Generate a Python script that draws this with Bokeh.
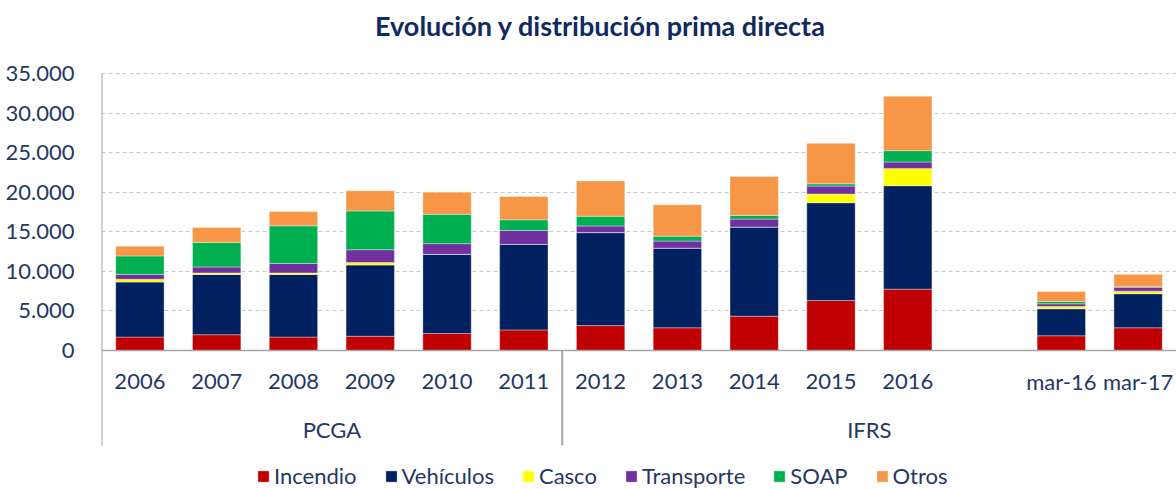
from bokeh.plotting import figure
from bokeh.models import FactorRange, Range1d, FixedTicker, Span, ColumnDataSource
from bokeh.core.properties import value
from bokeh.embed import file_html
from bokeh.resources import INLINE

# ---- data ----
title_text = "Evolución y distribución prima directa"
categories = ["2006", "2007", "2008", "2009", "2010", "2011", "2012", "2013",
              "2014", "2015", "2016", " ", "mar-16", "mar-17"]
groups = ["PCGA"] * 6 + ["IFRS"] * 8
series_names = ["Incendio", "Vehículos", "Casco", "Transporte", "SOAP", "Otros"]
incendio = [1700, 2000, 1700, 1800, 2150, 2600, 3150, 2870, 4340, 6320, 7750, 0, 1860, 2870]
vehiculos = [6950, 7600, 7900, 9000, 10000, 10800, 11750, 10060, 11250, 12350, 13070, 0, 3410, 4300]
casco = [350, 200, 200, 330, 0, 0, 0, 0, 0, 1090, 2190, 0, 290, 330]
transporte = [600, 750, 1200, 1600, 1350, 1770, 830, 890, 1010, 1010, 800, 0, 340, 490]
soap = [2350, 3100, 4750, 4900, 3700, 1350, 1230, 630, 470, 300, 1440, 0, 290, 80]
otros = [1230, 1900, 1800, 2550, 2800, 2950, 4460, 3970, 4930, 5100, 6860, 0, 1270, 1570]
y_ticks = [0, 5000, 10000, 15000, 20000, 25000, 30000, 35000]
y_tick_labels = ["0", "5.000", "10.000", "15.000", "20.000", "25.000", "30.000", "35.000"]
colors = ["#C00000", "#002060", "#FFFF00", "#7030A0", "#00B050", "#F79646"]

TEXT = "#1F3864"
TITLE = "#0F2A5F"
FONT = "Lato"

source = ColumnDataSource(data=dict(
    cat=categories,
    Incendio=incendio, Vehículos=vehiculos, Casco=casco,
    Transporte=transporte, SOAP=soap, Otros=otros,
))

p = figure(
    x_range=FactorRange(factors=categories, range_padding=0),
    y_range=Range1d(-17560, 44220),
    width=1176, height=489,
    output_backend="svg", toolbar_location=None,
    min_border_left=101, min_border_right=0, min_border_top=0, min_border_bottom=0,
)
p.x_range.factor_padding = 0

p.vbar_stack(series_names, x="cat", width=0.63, source=source, color=colors,
             line_color="white", line_width=0.6, line_alpha=0.6,
             legend_label=series_names)

# title (drawn as text in the top margin of the frame)
p.text(x=[6.5], y=[41060], text=[title_text], text_align="center", text_baseline="middle",
       text_font=value(FONT), text_font_size="27px", text_font_style="bold",
       text_color=TITLE)

# axes
p.xaxis.visible = False
p.yaxis.ticker = FixedTicker(ticks=y_ticks)
p.yaxis.major_label_overrides = {t: l for t, l in zip(y_ticks, y_tick_labels)}
p.yaxis.axis_line_color = None
p.yaxis.major_tick_line_color = None
p.yaxis.minor_tick_line_color = None
p.yaxis.major_label_standoff = 21
p.yaxis.major_label_text_font = FONT
p.yaxis.major_label_text_font_size = "22px"
p.yaxis.major_label_text_color = TEXT

p.xgrid.visible = False
p.ygrid.ticker = FixedTicker(ticks=y_ticks)
p.ygrid.grid_line_color = "#C8C8C8"
p.ygrid.grid_line_dash = "4 3"
p.ygrid.grid_line_width = 1
p.outline_line_color = None

# baseline
p.add_layout(Span(location=0, dimension="width", line_color="#A6A6A6", line_width=1.5))

# left axis line and group separators
bounds = [0]
for i in range(1, len(groups)):
    if groups[i] != groups[i - 1]:
        bounds.append(i)
p.segment(x0=bounds, x1=bounds, y0=[-12000] * len(bounds),
          y1=[35000] + [0] * (len(bounds) - 1), line_color="#A6A6A6", line_width=2)

# category labels
p.text(x=categories, y=[-3950] * len(categories), text=categories,
       text_align="center", text_baseline="middle",
       text_font=value(FONT), text_font_size="22px", text_color=TEXT)

# group labels
gnames, gcenters = [], []
for g in dict.fromkeys(groups):
    idx = [i for i, gg in enumerate(groups) if gg == g]
    gnames.append(g)
    gcenters.append((min(idx) + max(idx) + 1) / 2)
p.text(x=gcenters, y=[-9950] * len(gnames), text=gnames,
       text_align="center", text_baseline="middle",
       text_font=value(FONT), text_font_size="22px", text_color=TEXT)

# legend
leg = p.legend[0]
leg.orientation = "horizontal"
leg.location = (155, 0)
leg.border_line_color = None
leg.background_fill_alpha = 0
leg.label_text_font = FONT
leg.label_text_font_size = "22px"
leg.label_text_color = TEXT
leg.glyph_width = 14
leg.glyph_height = 14
leg.label_standoff = 4
leg.spacing = 27
leg.padding = 0
leg.margin = 0

open("out.html", "w").write(file_html(p, INLINE))
